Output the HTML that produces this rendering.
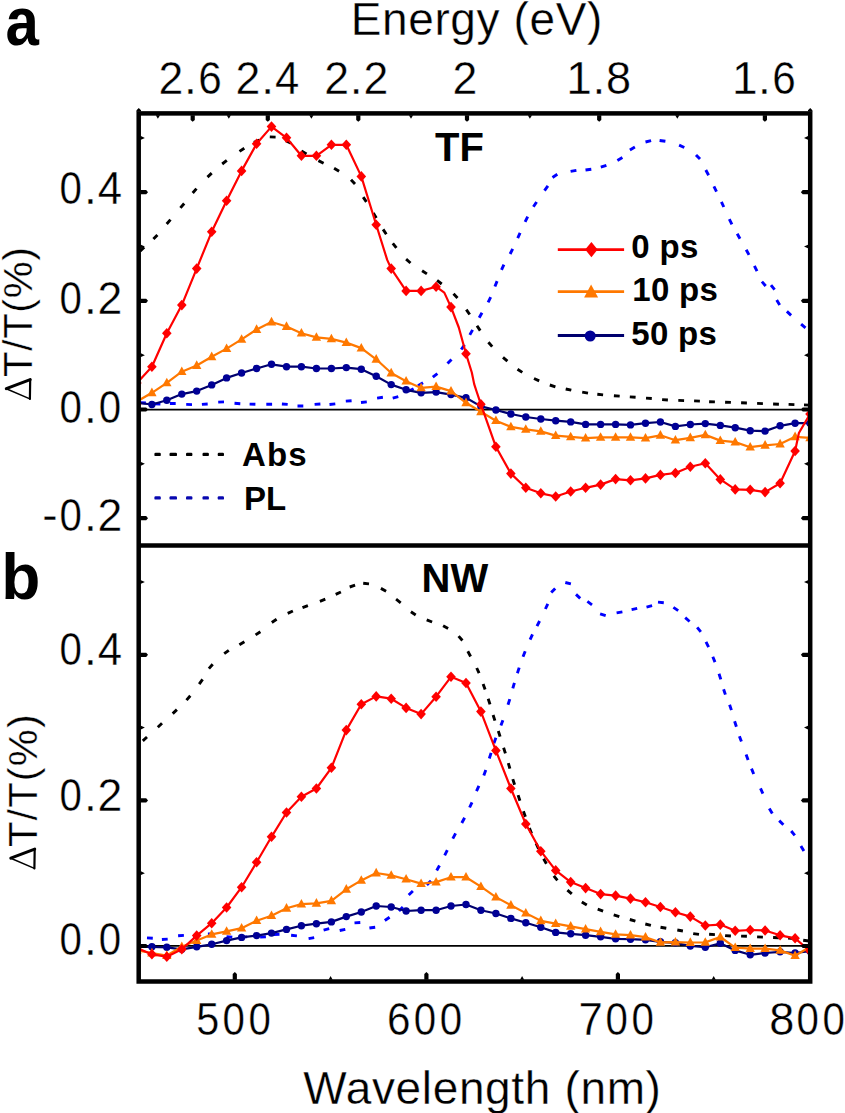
<!DOCTYPE html>
<html><head><meta charset="utf-8"><title>Transient absorption spectra</title>
<style>html,body{margin:0;padding:0;background:#fff;width:845px;height:1113px;overflow:hidden}svg{display:block}text{font-family:"Liberation Sans",sans-serif;fill:#000}text.thin{stroke:#fff;stroke-width:0.35px}</style>
</head><body>
<svg width="845" height="1113" viewBox="0 0 845 1113" font-family="Liberation Sans, sans-serif">
<defs>
<clipPath id="ca"><rect x="138.7" y="113.4" width="671.5" height="432.05000000000007"/></clipPath>
<clipPath id="cb"><rect x="138.7" y="545.45" width="671.5" height="436.04999999999995"/></clipPath>
</defs>
<rect width="845" height="1113" fill="#fff"/>
<line x1="138.7" y1="409.6" x2="810.2" y2="409.6" stroke="#000" stroke-width="1.6"/>
<line x1="138.7" y1="945.9" x2="810.2" y2="945.9" stroke="#000" stroke-width="1.6"/>
<g clip-path="url(#ca)">
<path d="M140.0 251.2L144.2 247.2M153.4 239.1L157.4 234.9M166.7 224.0L170.5 219.6M180.4 207.9L184.2 203.5M192.7 193.0L196.5 188.6M207.5 177.1L211.7 173.1M222.2 164.0L226.8 160.4M239.5 151.4L244.3 148.2M253.9 142.3L259.3 140.1M269.8 136.9L275.6 137.1M285.8 140.7L291.0 143.3M301.5 151.1L306.5 154.1M318.4 160.6L323.6 163.2M334.1 168.2L339.1 171.2M351.0 179.7L355.0 183.9M363.2 197.1L366.4 201.9M373.3 213.1L376.3 218.1M383.1 229.4L386.3 234.2M392.8 243.3L396.4 247.9M406.1 259.2L410.5 263.0M422.1 270.7L426.9 273.9M437.1 280.4L441.7 284.0M453.5 293.8L457.5 298.0M466.3 309.7L469.7 314.5M477.0 325.8L480.2 330.6M488.4 342.2L492.2 346.6M503.0 357.4L507.4 361.2M517.5 369.2L522.3 372.4M534.0 378.5L539.2 380.9M549.8 385.0L555.4 386.8M565.7 389.0L571.3 390.2M582.2 392.1L588.0 393.1M597.3 394.3L603.1 394.9M613.9 395.7L619.7 396.1M629.8 396.9L635.6 397.3M646.0 398.1L651.8 398.5M662.1 399.6L667.9 400.0M678.3 400.4L684.1 400.6M694.1 400.9L699.9 401.1M709.1 401.7L714.9 401.9M725.1 402.2L730.9 402.4M741.1 402.8L746.9 403.0M757.1 403.4L762.9 403.6M773.1 404.0L778.9 404.2M788.6 404.4L794.4 404.6M804.0 404.9L809.8 405.1" stroke="#000" stroke-width="2.9" fill="none"/>
<path d="M140.1 402.6L145.9 403.0M154.6 403.9L160.4 404.1M169.9 403.5L175.7 403.5M186.2 404.4L192.0 404.6M201.9 404.4L207.7 404.0M218.2 402.1L224.0 401.9M234.5 403.3L240.3 403.7M249.6 404.1L255.4 404.3M266.3 404.2L272.1 404.2M281.9 404.0L287.7 404.4M297.5 406.0L303.3 406.0M314.6 404.4L320.4 404.0M329.5 404.5L335.3 403.9M345.8 401.1L351.6 400.7M361.0 402.5L366.8 401.9M377.1 398.1L382.9 397.3M392.7 398.1L398.3 396.7M408.4 391.3L413.6 388.7M418.0 385.8L423.0 382.8M432.8 377.2L437.4 373.6M447.5 363.6L451.5 359.4M461.2 349.5L464.6 344.9M469.8 334.9L472.6 329.9M479.2 317.7L482.0 312.7M488.1 302.4L490.7 297.2M494.9 286.5L497.1 281.1M501.5 269.9L503.9 264.7M510.1 254.0L512.7 248.8M517.7 238.1L520.1 232.9M525.1 221.9L527.7 216.7M533.4 206.8L536.6 202.0M544.5 190.7L547.9 185.9M552.5 177.5L557.3 174.3M570.6 171.4L576.4 170.4M585.5 170.0L591.3 169.2M600.8 167.1L606.4 165.3M617.4 160.6L622.4 157.6M629.9 149.9L634.9 146.9M645.5 142.0L651.1 140.6M659.6 140.5L665.4 141.3M679.1 145.1L684.3 147.5M696.0 154.9L700.0 159.1M705.8 170.0L708.6 175.2M713.9 186.4L716.5 191.6M721.4 201.8L723.8 207.0M729.3 219.2L731.9 224.4M737.2 233.7L740.0 238.7M746.2 249.7L749.0 254.9M754.4 265.9L757.0 271.1M761.9 281.6L765.7 286.0M771.0 285.1L774.6 289.7M776.7 300.1L779.7 305.1M786.9 311.4L791.1 315.4M801.1 324.1L805.5 327.9" stroke="#0000ff" stroke-width="2.9" fill="none"/>
<polyline points="136.9,402.8 151.9,404.5 166.8,400.3 181.8,394.1 196.7,391.1 211.7,384.9 226.6,377.9 241.6,373.0 256.6,368.5 271.5,364.3 286.5,366.7 301.4,366.7 316.4,368.5 331.4,368.5 346.3,367.6 361.3,369.2 376.2,376.2 391.2,384.6 406.1,389.8 421.1,392.8 436.1,392.1 451.0,394.6 466.0,397.8 480.9,406.4 495.9,410.0 510.9,414.0 525.8,417.0 540.8,419.0 555.7,420.7 570.7,421.9 585.6,424.4 600.6,424.4 615.6,424.4 630.5,424.9 645.5,423.2 660.4,422.0 675.4,426.4 690.3,424.5 705.3,423.6 720.3,425.4 735.2,427.7 750.2,430.7 765.1,431.1 780.1,425.8 795.1,423.2 810.0,423.2" fill="none" stroke="#00006e" stroke-width="2.2" stroke-linejoin="round"/>
<circle cx="136.9" cy="402.8" r="3.7" fill="#000096"/>
<circle cx="151.9" cy="404.5" r="3.7" fill="#000096"/>
<circle cx="166.8" cy="400.3" r="3.7" fill="#000096"/>
<circle cx="181.8" cy="394.1" r="3.7" fill="#000096"/>
<circle cx="196.7" cy="391.1" r="3.7" fill="#000096"/>
<circle cx="211.7" cy="384.9" r="3.7" fill="#000096"/>
<circle cx="226.6" cy="377.9" r="3.7" fill="#000096"/>
<circle cx="241.6" cy="373.0" r="3.7" fill="#000096"/>
<circle cx="256.6" cy="368.5" r="3.7" fill="#000096"/>
<circle cx="271.5" cy="364.3" r="3.7" fill="#000096"/>
<circle cx="286.5" cy="366.7" r="3.7" fill="#000096"/>
<circle cx="301.4" cy="366.7" r="3.7" fill="#000096"/>
<circle cx="316.4" cy="368.5" r="3.7" fill="#000096"/>
<circle cx="331.4" cy="368.5" r="3.7" fill="#000096"/>
<circle cx="346.3" cy="367.6" r="3.7" fill="#000096"/>
<circle cx="361.3" cy="369.2" r="3.7" fill="#000096"/>
<circle cx="376.2" cy="376.2" r="3.7" fill="#000096"/>
<circle cx="391.2" cy="384.6" r="3.7" fill="#000096"/>
<circle cx="406.1" cy="389.8" r="3.7" fill="#000096"/>
<circle cx="421.1" cy="392.8" r="3.7" fill="#000096"/>
<circle cx="436.1" cy="392.1" r="3.7" fill="#000096"/>
<circle cx="451.0" cy="394.6" r="3.7" fill="#000096"/>
<circle cx="466.0" cy="397.8" r="3.7" fill="#000096"/>
<circle cx="480.9" cy="406.4" r="3.7" fill="#000096"/>
<circle cx="495.9" cy="410.0" r="3.7" fill="#000096"/>
<circle cx="510.9" cy="414.0" r="3.7" fill="#000096"/>
<circle cx="525.8" cy="417.0" r="3.7" fill="#000096"/>
<circle cx="540.8" cy="419.0" r="3.7" fill="#000096"/>
<circle cx="555.7" cy="420.7" r="3.7" fill="#000096"/>
<circle cx="570.7" cy="421.9" r="3.7" fill="#000096"/>
<circle cx="585.6" cy="424.4" r="3.7" fill="#000096"/>
<circle cx="600.6" cy="424.4" r="3.7" fill="#000096"/>
<circle cx="615.6" cy="424.4" r="3.7" fill="#000096"/>
<circle cx="630.5" cy="424.9" r="3.7" fill="#000096"/>
<circle cx="645.5" cy="423.2" r="3.7" fill="#000096"/>
<circle cx="660.4" cy="422.0" r="3.7" fill="#000096"/>
<circle cx="675.4" cy="426.4" r="3.7" fill="#000096"/>
<circle cx="690.3" cy="424.5" r="3.7" fill="#000096"/>
<circle cx="705.3" cy="423.6" r="3.7" fill="#000096"/>
<circle cx="720.3" cy="425.4" r="3.7" fill="#000096"/>
<circle cx="735.2" cy="427.7" r="3.7" fill="#000096"/>
<circle cx="750.2" cy="430.7" r="3.7" fill="#000096"/>
<circle cx="765.1" cy="431.1" r="3.7" fill="#000096"/>
<circle cx="780.1" cy="425.8" r="3.7" fill="#000096"/>
<circle cx="795.1" cy="423.2" r="3.7" fill="#000096"/>
<circle cx="810.0" cy="423.2" r="3.7" fill="#000096"/>
<polyline points="136.9,401.5 151.9,392.8 166.8,382.9 181.8,371.7 196.7,365.5 211.7,356.8 226.6,348.6 241.6,339.4 256.6,329.5 271.5,322.0 286.5,326.5 301.4,333.2 316.4,337.4 331.4,338.9 346.3,342.6 361.3,348.1 376.2,359.3 391.2,373.0 406.1,381.2 421.1,387.9 436.1,386.6 451.0,391.1 466.0,402.8 480.9,411.8 495.9,420.7 510.9,426.9 525.8,429.4 540.8,431.4 555.7,435.6 570.7,436.9 585.6,438.1 600.6,437.4 615.6,437.4 630.5,437.4 645.5,438.1 660.4,435.3 675.4,440.2 690.3,437.8 705.3,434.9 720.3,440.6 735.2,442.1 750.2,447.2 765.1,445.3 780.1,444.0 795.1,436.8 810.0,437.8" fill="none" stroke="#ff7800" stroke-width="2.2" stroke-linejoin="round"/>
<path d="M136.9 396.3L141.6 404.9L132.2 404.9Z" fill="#ff7800"/>
<path d="M151.9 387.6L156.6 396.2L147.2 396.2Z" fill="#ff7800"/>
<path d="M166.8 377.7L171.5 386.3L162.1 386.3Z" fill="#ff7800"/>
<path d="M181.8 366.5L186.5 375.1L177.1 375.1Z" fill="#ff7800"/>
<path d="M196.7 360.3L201.4 368.9L192.0 368.9Z" fill="#ff7800"/>
<path d="M211.7 351.6L216.4 360.2L207.0 360.2Z" fill="#ff7800"/>
<path d="M226.6 343.4L231.3 352.0L221.9 352.0Z" fill="#ff7800"/>
<path d="M241.6 334.2L246.3 342.8L236.9 342.8Z" fill="#ff7800"/>
<path d="M256.6 324.3L261.3 332.9L251.9 332.9Z" fill="#ff7800"/>
<path d="M271.5 316.8L276.2 325.4L266.8 325.4Z" fill="#ff7800"/>
<path d="M286.5 321.3L291.2 329.9L281.8 329.9Z" fill="#ff7800"/>
<path d="M301.4 328.0L306.1 336.6L296.7 336.6Z" fill="#ff7800"/>
<path d="M316.4 332.2L321.1 340.8L311.7 340.8Z" fill="#ff7800"/>
<path d="M331.4 333.7L336.1 342.3L326.7 342.3Z" fill="#ff7800"/>
<path d="M346.3 337.4L351.0 346.0L341.6 346.0Z" fill="#ff7800"/>
<path d="M361.3 342.9L366.0 351.5L356.6 351.5Z" fill="#ff7800"/>
<path d="M376.2 354.1L380.9 362.7L371.5 362.7Z" fill="#ff7800"/>
<path d="M391.2 367.8L395.9 376.4L386.5 376.4Z" fill="#ff7800"/>
<path d="M406.1 376.0L410.8 384.6L401.4 384.6Z" fill="#ff7800"/>
<path d="M421.1 382.7L425.8 391.3L416.4 391.3Z" fill="#ff7800"/>
<path d="M436.1 381.4L440.8 390.0L431.4 390.0Z" fill="#ff7800"/>
<path d="M451.0 385.9L455.7 394.5L446.3 394.5Z" fill="#ff7800"/>
<path d="M466.0 397.6L470.7 406.2L461.3 406.2Z" fill="#ff7800"/>
<path d="M480.9 406.6L485.6 415.2L476.2 415.2Z" fill="#ff7800"/>
<path d="M495.9 415.5L500.6 424.1L491.2 424.1Z" fill="#ff7800"/>
<path d="M510.9 421.7L515.6 430.3L506.2 430.3Z" fill="#ff7800"/>
<path d="M525.8 424.2L530.5 432.8L521.1 432.8Z" fill="#ff7800"/>
<path d="M540.8 426.2L545.5 434.8L536.1 434.8Z" fill="#ff7800"/>
<path d="M555.7 430.4L560.4 439.0L551.0 439.0Z" fill="#ff7800"/>
<path d="M570.7 431.7L575.4 440.3L566.0 440.3Z" fill="#ff7800"/>
<path d="M585.6 432.9L590.3 441.5L580.9 441.5Z" fill="#ff7800"/>
<path d="M600.6 432.2L605.3 440.8L595.9 440.8Z" fill="#ff7800"/>
<path d="M615.6 432.2L620.3 440.8L610.9 440.8Z" fill="#ff7800"/>
<path d="M630.5 432.2L635.2 440.8L625.8 440.8Z" fill="#ff7800"/>
<path d="M645.5 432.9L650.2 441.5L640.8 441.5Z" fill="#ff7800"/>
<path d="M660.4 430.1L665.1 438.7L655.7 438.7Z" fill="#ff7800"/>
<path d="M675.4 435.0L680.1 443.6L670.7 443.6Z" fill="#ff7800"/>
<path d="M690.3 432.6L695.0 441.2L685.6 441.2Z" fill="#ff7800"/>
<path d="M705.3 429.7L710.0 438.3L700.6 438.3Z" fill="#ff7800"/>
<path d="M720.3 435.4L725.0 444.0L715.6 444.0Z" fill="#ff7800"/>
<path d="M735.2 436.9L739.9 445.5L730.5 445.5Z" fill="#ff7800"/>
<path d="M750.2 442.0L754.9 450.6L745.5 450.6Z" fill="#ff7800"/>
<path d="M765.1 440.1L769.8 448.7L760.4 448.7Z" fill="#ff7800"/>
<path d="M780.1 438.8L784.8 447.4L775.4 447.4Z" fill="#ff7800"/>
<path d="M795.1 431.6L799.8 440.2L790.4 440.2Z" fill="#ff7800"/>
<path d="M810.0 432.6L814.7 441.2L805.3 441.2Z" fill="#ff7800"/>
<polyline points="136.9,383.0 151.9,366.7 166.8,333.2 181.8,305.1 196.7,268.6 211.7,231.8 226.6,200.7 241.6,170.9 256.6,143.8 271.5,126.6 286.5,137.8 301.4,155.8 316.4,155.8 331.4,144.8 346.3,144.8 361.3,176.4 376.2,224.8 387.2,259.9 391.2,268.6 406.1,290.9 421.1,290.9 436.1,286.7 444.3,292.6 451.0,307.1 458.8,327.5 466.0,353.7 471.8,372.5 474.2,384.1 476.6,391.5 480.9,404.3 495.9,446.8 510.9,473.6 525.8,487.8 540.8,493.3 555.7,496.5 570.7,491.5 585.6,487.8 600.6,484.6 615.6,479.1 630.5,480.3 645.5,478.4 660.4,474.9 675.4,473.0 690.3,466.7 705.3,463.3 720.3,479.4 735.2,489.4 750.2,489.8 765.1,492.1 780.1,483.2 795.1,451.0 798.9,433.0 810.0,414.0" fill="none" stroke="#ff0000" stroke-width="2.2" stroke-linejoin="round"/>
<path d="M136.9 377.7L141.7 383.0L136.9 388.3L132.1 383.0Z" fill="#ff0000"/>
<path d="M151.9 361.4L156.7 366.7L151.9 372.0L147.1 366.7Z" fill="#ff0000"/>
<path d="M166.8 327.9L171.6 333.2L166.8 338.5L162.0 333.2Z" fill="#ff0000"/>
<path d="M181.8 299.8L186.6 305.1L181.8 310.4L177.0 305.1Z" fill="#ff0000"/>
<path d="M196.7 263.3L201.5 268.6L196.7 273.9L191.9 268.6Z" fill="#ff0000"/>
<path d="M211.7 226.5L216.5 231.8L211.7 237.1L206.9 231.8Z" fill="#ff0000"/>
<path d="M226.6 195.4L231.4 200.7L226.6 206.0L221.8 200.7Z" fill="#ff0000"/>
<path d="M241.6 165.6L246.4 170.9L241.6 176.2L236.8 170.9Z" fill="#ff0000"/>
<path d="M256.6 138.5L261.4 143.8L256.6 149.1L251.8 143.8Z" fill="#ff0000"/>
<path d="M271.5 121.3L276.3 126.6L271.5 131.9L266.7 126.6Z" fill="#ff0000"/>
<path d="M286.5 132.5L291.3 137.8L286.5 143.1L281.7 137.8Z" fill="#ff0000"/>
<path d="M301.4 150.5L306.2 155.8L301.4 161.1L296.6 155.8Z" fill="#ff0000"/>
<path d="M316.4 150.5L321.2 155.8L316.4 161.1L311.6 155.8Z" fill="#ff0000"/>
<path d="M331.4 139.5L336.2 144.8L331.4 150.1L326.6 144.8Z" fill="#ff0000"/>
<path d="M346.3 139.5L351.1 144.8L346.3 150.1L341.5 144.8Z" fill="#ff0000"/>
<path d="M361.3 171.1L366.1 176.4L361.3 181.7L356.5 176.4Z" fill="#ff0000"/>
<path d="M376.2 219.5L381.0 224.8L376.2 230.1L371.4 224.8Z" fill="#ff0000"/>
<path d="M391.2 263.3L396.0 268.6L391.2 273.9L386.4 268.6Z" fill="#ff0000"/>
<path d="M406.1 285.6L410.9 290.9L406.1 296.2L401.3 290.9Z" fill="#ff0000"/>
<path d="M421.1 285.6L425.9 290.9L421.1 296.2L416.3 290.9Z" fill="#ff0000"/>
<path d="M436.1 281.4L440.9 286.7L436.1 292.0L431.3 286.7Z" fill="#ff0000"/>
<path d="M451.0 301.8L455.8 307.1L451.0 312.4L446.2 307.1Z" fill="#ff0000"/>
<path d="M466.0 348.4L470.8 353.7L466.0 359.0L461.2 353.7Z" fill="#ff0000"/>
<path d="M480.9 399.0L485.7 404.3L480.9 409.6L476.1 404.3Z" fill="#ff0000"/>
<path d="M495.9 441.5L500.7 446.8L495.9 452.1L491.1 446.8Z" fill="#ff0000"/>
<path d="M510.9 468.3L515.6 473.6L510.9 478.9L506.1 473.6Z" fill="#ff0000"/>
<path d="M525.8 482.5L530.6 487.8L525.8 493.1L521.0 487.8Z" fill="#ff0000"/>
<path d="M540.8 488.0L545.6 493.3L540.8 498.6L536.0 493.3Z" fill="#ff0000"/>
<path d="M555.7 491.2L560.5 496.5L555.7 501.8L550.9 496.5Z" fill="#ff0000"/>
<path d="M570.7 486.2L575.5 491.5L570.7 496.8L565.9 491.5Z" fill="#ff0000"/>
<path d="M585.6 482.5L590.4 487.8L585.6 493.1L580.8 487.8Z" fill="#ff0000"/>
<path d="M600.6 479.3L605.4 484.6L600.6 489.9L595.8 484.6Z" fill="#ff0000"/>
<path d="M615.6 473.8L620.4 479.1L615.6 484.4L610.8 479.1Z" fill="#ff0000"/>
<path d="M630.5 475.0L635.3 480.3L630.5 485.6L625.7 480.3Z" fill="#ff0000"/>
<path d="M645.5 473.1L650.3 478.4L645.5 483.7L640.7 478.4Z" fill="#ff0000"/>
<path d="M660.4 469.6L665.2 474.9L660.4 480.2L655.6 474.9Z" fill="#ff0000"/>
<path d="M675.4 467.7L680.2 473.0L675.4 478.3L670.6 473.0Z" fill="#ff0000"/>
<path d="M690.3 461.4L695.1 466.7L690.3 472.0L685.5 466.7Z" fill="#ff0000"/>
<path d="M705.3 458.0L710.1 463.3L705.3 468.6L700.5 463.3Z" fill="#ff0000"/>
<path d="M720.3 474.1L725.1 479.4L720.3 484.7L715.5 479.4Z" fill="#ff0000"/>
<path d="M735.2 484.1L740.0 489.4L735.2 494.7L730.4 489.4Z" fill="#ff0000"/>
<path d="M750.2 484.5L755.0 489.8L750.2 495.1L745.4 489.8Z" fill="#ff0000"/>
<path d="M765.1 486.8L769.9 492.1L765.1 497.4L760.3 492.1Z" fill="#ff0000"/>
<path d="M780.1 477.9L784.9 483.2L780.1 488.5L775.3 483.2Z" fill="#ff0000"/>
<path d="M795.1 445.7L799.9 451.0L795.1 456.3L790.3 451.0Z" fill="#ff0000"/>
<path d="M810.0 408.7L814.8 414.0L810.0 419.3L805.2 414.0Z" fill="#ff0000"/>
</g>
<g clip-path="url(#cb)">
<path d="M142.8 740.8L147.0 737.0M157.8 727.3L162.0 723.3M172.7 713.6L176.9 709.6M186.5 700.1L190.3 695.7M199.2 684.2L202.6 679.4M208.9 668.6L212.7 664.2M224.2 653.7L228.8 650.3M239.4 644.7L244.4 641.7M255.6 634.9L260.4 631.7M271.8 622.5L276.6 619.3M287.7 613.4L292.9 611.0M302.5 607.7L307.9 605.7M319.9 601.4L325.3 599.2M335.7 594.4L340.9 592.0M349.7 587.0L355.1 585.2M363.2 583.3L369.0 583.9M380.9 588.4L386.1 591.2M396.1 599.2L400.7 602.8M410.9 611.8L415.7 615.0M426.7 619.8L432.1 622.0M443.1 625.7L448.1 628.5M458.6 636.1L462.4 640.5M467.8 651.3L470.6 656.5M476.7 668.0L479.1 673.2M483.1 684.0L485.1 689.4M488.2 698.8L490.0 704.4M493.1 715.0L494.9 720.6M498.3 731.0L500.1 736.6M503.6 747.8L505.4 753.4M508.3 763.1L509.9 768.7M512.8 779.1L514.6 784.7M518.1 795.1L519.9 800.7M523.4 811.3L525.4 816.7M529.4 828.1L531.6 833.5M536.1 843.4L538.5 848.6M543.6 858.8L546.4 863.8M553.8 875.8L557.4 880.4M567.4 890.1L571.8 893.9M581.8 902.1L586.8 905.1M597.7 909.2L603.1 911.2M613.7 914.8L619.3 916.6M629.8 919.5L635.4 921.1M645.3 924.0L650.9 925.4M660.5 927.2L666.3 928.2M677.3 930.0L682.9 931.0M693.2 933.6L699.0 934.4M709.1 934.2L714.9 934.6M725.1 935.6L730.9 936.0M741.1 936.1L746.9 936.3M757.1 936.9L762.9 937.1M773.1 937.5L778.9 937.7M788.1 938.0L793.9 938.6M803.2 940.2L809.0 941.0" stroke="#000" stroke-width="2.9" fill="none"/>
<path d="M147.0 937.9L152.8 938.3M161.9 939.5L167.7 939.1M178.1 935.8L183.9 935.4M193.0 937.1L198.8 936.7M207.9 933.9L213.7 933.9M226.5 936.6L232.3 937.2M241.4 936.9L247.2 936.9M260.1 937.1L265.9 936.7M273.7 934.5L279.5 934.3M291.1 935.3L296.9 935.9M308.6 938.6L314.2 937.6M323.6 930.1L329.2 928.7M339.7 930.5L345.3 929.3M354.5 922.9L360.3 922.5M369.4 928.0L375.2 927.2M384.8 920.5L389.6 917.3M398.9 911.1L402.9 906.9M408.7 895.0L412.9 891.0M426.8 884.9L431.0 880.9M436.7 870.5L439.5 865.5M444.7 855.4L447.3 850.2M452.8 838.6L455.6 833.4M461.8 823.0L464.6 817.8M469.6 807.5L472.0 802.3M476.5 791.2L478.9 785.8M483.8 775.5L485.8 770.1M489.3 758.5L491.1 752.9M493.9 743.2L495.9 737.8M500.9 725.6L502.9 720.2M508.0 704.7L509.8 699.1M512.8 688.4L514.4 682.8M517.4 673.2L519.2 667.6M523.0 656.7L525.2 651.3M530.1 639.6L532.5 634.4M537.0 626.2L539.6 621.0M545.4 609.0L547.8 603.8M551.2 592.6L555.2 588.4M565.3 582.5L570.9 583.9M576.0 594.4L580.2 598.4M587.4 601.4L592.0 604.8M600.1 613.8L605.7 615.6M616.6 612.9L622.4 611.9M631.6 609.6L637.2 608.4M646.5 607.1L652.1 605.7M658.0 602.1L663.8 602.7M673.4 607.4L678.2 610.6M685.2 617.7L689.6 621.5M697.2 627.3L700.8 631.9M706.0 641.9L708.6 647.1M712.8 656.7L715.0 662.1M719.0 673.8L720.8 679.4M723.6 689.2L725.4 694.6M729.6 704.7L731.4 710.1M734.6 721.2L736.4 726.8M739.4 736.2L741.4 741.6M746.1 754.5L748.1 759.9M751.5 768.6L753.7 774.0M760.5 788.4L762.9 793.6M769.3 808.5L772.3 813.5M779.2 820.6L783.4 824.8M791.2 831.0L794.8 835.4M800.9 845.9L803.9 850.9" stroke="#0000ff" stroke-width="2.9" fill="none"/>
<polyline points="136.9,946.8 151.9,946.8 166.8,947.3 181.8,949.3 196.7,946.8 211.7,944.3 226.6,940.6 241.6,937.4 256.6,935.6 271.5,933.1 286.5,929.4 301.4,925.7 316.4,923.7 331.4,921.9 346.3,916.6 361.3,912.0 376.2,906.0 391.2,907.0 406.1,911.0 421.1,910.2 436.1,910.2 451.0,906.0 466.0,904.5 480.9,910.2 495.9,913.5 510.9,918.4 525.8,922.7 540.8,927.3 555.7,932.4 570.7,933.8 585.6,935.2 600.6,936.8 615.6,938.8 630.5,939.2 645.5,939.8 660.4,941.8 675.4,942.8 690.3,946.0 705.3,947.2 720.3,943.3 735.2,950.4 750.2,954.8 765.1,953.0 780.1,951.8 795.1,953.0 810.0,951.2" fill="none" stroke="#00006e" stroke-width="2.2" stroke-linejoin="round"/>
<circle cx="136.9" cy="946.8" r="3.7" fill="#000096"/>
<circle cx="151.9" cy="946.8" r="3.7" fill="#000096"/>
<circle cx="166.8" cy="947.3" r="3.7" fill="#000096"/>
<circle cx="181.8" cy="949.3" r="3.7" fill="#000096"/>
<circle cx="196.7" cy="946.8" r="3.7" fill="#000096"/>
<circle cx="211.7" cy="944.3" r="3.7" fill="#000096"/>
<circle cx="226.6" cy="940.6" r="3.7" fill="#000096"/>
<circle cx="241.6" cy="937.4" r="3.7" fill="#000096"/>
<circle cx="256.6" cy="935.6" r="3.7" fill="#000096"/>
<circle cx="271.5" cy="933.1" r="3.7" fill="#000096"/>
<circle cx="286.5" cy="929.4" r="3.7" fill="#000096"/>
<circle cx="301.4" cy="925.7" r="3.7" fill="#000096"/>
<circle cx="316.4" cy="923.7" r="3.7" fill="#000096"/>
<circle cx="331.4" cy="921.9" r="3.7" fill="#000096"/>
<circle cx="346.3" cy="916.6" r="3.7" fill="#000096"/>
<circle cx="361.3" cy="912.0" r="3.7" fill="#000096"/>
<circle cx="376.2" cy="906.0" r="3.7" fill="#000096"/>
<circle cx="391.2" cy="907.0" r="3.7" fill="#000096"/>
<circle cx="406.1" cy="911.0" r="3.7" fill="#000096"/>
<circle cx="421.1" cy="910.2" r="3.7" fill="#000096"/>
<circle cx="436.1" cy="910.2" r="3.7" fill="#000096"/>
<circle cx="451.0" cy="906.0" r="3.7" fill="#000096"/>
<circle cx="466.0" cy="904.5" r="3.7" fill="#000096"/>
<circle cx="480.9" cy="910.2" r="3.7" fill="#000096"/>
<circle cx="495.9" cy="913.5" r="3.7" fill="#000096"/>
<circle cx="510.9" cy="918.4" r="3.7" fill="#000096"/>
<circle cx="525.8" cy="922.7" r="3.7" fill="#000096"/>
<circle cx="540.8" cy="927.3" r="3.7" fill="#000096"/>
<circle cx="555.7" cy="932.4" r="3.7" fill="#000096"/>
<circle cx="570.7" cy="933.8" r="3.7" fill="#000096"/>
<circle cx="585.6" cy="935.2" r="3.7" fill="#000096"/>
<circle cx="600.6" cy="936.8" r="3.7" fill="#000096"/>
<circle cx="615.6" cy="938.8" r="3.7" fill="#000096"/>
<circle cx="630.5" cy="939.2" r="3.7" fill="#000096"/>
<circle cx="645.5" cy="939.8" r="3.7" fill="#000096"/>
<circle cx="660.4" cy="941.8" r="3.7" fill="#000096"/>
<circle cx="675.4" cy="942.8" r="3.7" fill="#000096"/>
<circle cx="690.3" cy="946.0" r="3.7" fill="#000096"/>
<circle cx="705.3" cy="947.2" r="3.7" fill="#000096"/>
<circle cx="720.3" cy="943.3" r="3.7" fill="#000096"/>
<circle cx="735.2" cy="950.4" r="3.7" fill="#000096"/>
<circle cx="750.2" cy="954.8" r="3.7" fill="#000096"/>
<circle cx="765.1" cy="953.0" r="3.7" fill="#000096"/>
<circle cx="780.1" cy="951.8" r="3.7" fill="#000096"/>
<circle cx="795.1" cy="953.0" r="3.7" fill="#000096"/>
<circle cx="810.0" cy="951.2" r="3.7" fill="#000096"/>
<polyline points="136.9,950.5 151.9,953.0 166.8,955.5 181.8,946.8 196.7,940.6 211.7,934.4 226.6,931.4 241.6,928.2 256.6,920.7 271.5,915.7 286.5,908.3 301.4,904.1 316.4,903.3 331.4,900.8 346.3,889.3 361.3,880.4 376.2,873.0 391.2,875.4 406.1,879.2 421.1,883.6 436.1,882.1 451.0,877.2 466.0,877.2 480.9,886.6 495.9,897.1 510.9,905.3 525.8,913.1 540.8,920.8 555.7,923.7 570.7,926.3 585.6,929.1 600.6,931.8 615.6,934.4 630.5,935.2 645.5,937.2 660.4,942.4 675.4,942.1 690.3,942.5 705.3,942.4 720.3,937.0 735.2,947.7 750.2,948.6 765.1,948.6 780.1,950.4 795.1,955.7 810.0,946.8" fill="none" stroke="#ff7800" stroke-width="2.2" stroke-linejoin="round"/>
<path d="M136.9 945.3L141.6 953.9L132.2 953.9Z" fill="#ff7800"/>
<path d="M151.9 947.8L156.6 956.4L147.2 956.4Z" fill="#ff7800"/>
<path d="M166.8 950.3L171.5 958.9L162.1 958.9Z" fill="#ff7800"/>
<path d="M181.8 941.6L186.5 950.2L177.1 950.2Z" fill="#ff7800"/>
<path d="M196.7 935.4L201.4 944.0L192.0 944.0Z" fill="#ff7800"/>
<path d="M211.7 929.2L216.4 937.8L207.0 937.8Z" fill="#ff7800"/>
<path d="M226.6 926.2L231.3 934.8L221.9 934.8Z" fill="#ff7800"/>
<path d="M241.6 923.0L246.3 931.6L236.9 931.6Z" fill="#ff7800"/>
<path d="M256.6 915.5L261.3 924.1L251.9 924.1Z" fill="#ff7800"/>
<path d="M271.5 910.5L276.2 919.1L266.8 919.1Z" fill="#ff7800"/>
<path d="M286.5 903.1L291.2 911.7L281.8 911.7Z" fill="#ff7800"/>
<path d="M301.4 898.9L306.1 907.5L296.7 907.5Z" fill="#ff7800"/>
<path d="M316.4 898.1L321.1 906.7L311.7 906.7Z" fill="#ff7800"/>
<path d="M331.4 895.6L336.1 904.2L326.7 904.2Z" fill="#ff7800"/>
<path d="M346.3 884.1L351.0 892.7L341.6 892.7Z" fill="#ff7800"/>
<path d="M361.3 875.2L366.0 883.8L356.6 883.8Z" fill="#ff7800"/>
<path d="M376.2 867.8L380.9 876.4L371.5 876.4Z" fill="#ff7800"/>
<path d="M391.2 870.2L395.9 878.8L386.5 878.8Z" fill="#ff7800"/>
<path d="M406.1 874.0L410.8 882.6L401.4 882.6Z" fill="#ff7800"/>
<path d="M421.1 878.4L425.8 887.0L416.4 887.0Z" fill="#ff7800"/>
<path d="M436.1 876.9L440.8 885.5L431.4 885.5Z" fill="#ff7800"/>
<path d="M451.0 872.0L455.7 880.6L446.3 880.6Z" fill="#ff7800"/>
<path d="M466.0 872.0L470.7 880.6L461.3 880.6Z" fill="#ff7800"/>
<path d="M480.9 881.4L485.6 890.0L476.2 890.0Z" fill="#ff7800"/>
<path d="M495.9 891.9L500.6 900.5L491.2 900.5Z" fill="#ff7800"/>
<path d="M510.9 900.1L515.6 908.7L506.2 908.7Z" fill="#ff7800"/>
<path d="M525.8 907.9L530.5 916.5L521.1 916.5Z" fill="#ff7800"/>
<path d="M540.8 915.6L545.5 924.2L536.1 924.2Z" fill="#ff7800"/>
<path d="M555.7 918.5L560.4 927.1L551.0 927.1Z" fill="#ff7800"/>
<path d="M570.7 921.1L575.4 929.7L566.0 929.7Z" fill="#ff7800"/>
<path d="M585.6 923.9L590.3 932.5L580.9 932.5Z" fill="#ff7800"/>
<path d="M600.6 926.6L605.3 935.2L595.9 935.2Z" fill="#ff7800"/>
<path d="M615.6 929.2L620.3 937.8L610.9 937.8Z" fill="#ff7800"/>
<path d="M630.5 930.0L635.2 938.6L625.8 938.6Z" fill="#ff7800"/>
<path d="M645.5 932.0L650.2 940.6L640.8 940.6Z" fill="#ff7800"/>
<path d="M660.4 937.2L665.1 945.8L655.7 945.8Z" fill="#ff7800"/>
<path d="M675.4 936.9L680.1 945.5L670.7 945.5Z" fill="#ff7800"/>
<path d="M690.3 937.3L695.0 945.9L685.6 945.9Z" fill="#ff7800"/>
<path d="M705.3 937.2L710.0 945.8L700.6 945.8Z" fill="#ff7800"/>
<path d="M720.3 931.8L725.0 940.4L715.6 940.4Z" fill="#ff7800"/>
<path d="M735.2 942.5L739.9 951.1L730.5 951.1Z" fill="#ff7800"/>
<path d="M750.2 943.4L754.9 952.0L745.5 952.0Z" fill="#ff7800"/>
<path d="M765.1 943.4L769.8 952.0L760.4 952.0Z" fill="#ff7800"/>
<path d="M780.1 945.2L784.8 953.8L775.4 953.8Z" fill="#ff7800"/>
<path d="M795.1 950.5L799.8 959.1L790.4 959.1Z" fill="#ff7800"/>
<path d="M810.0 941.6L814.7 950.2L805.3 950.2Z" fill="#ff7800"/>
<polyline points="136.9,948.0 151.9,954.3 166.8,956.7 181.8,949.3 196.7,935.6 211.7,923.2 226.6,907.5 241.6,887.2 256.6,862.3 271.5,836.8 286.5,812.5 301.4,796.8 316.4,788.5 331.4,767.8 346.3,730.1 361.3,704.3 376.2,696.4 391.2,698.7 406.1,707.9 421.1,714.1 436.1,696.7 451.0,676.8 466.0,683.0 480.9,711.6 495.9,750.6 510.9,788.5 525.8,824.0 540.8,851.2 555.7,870.4 570.7,882.1 585.6,888.1 600.6,894.1 615.6,895.6 630.5,898.6 645.5,902.2 660.4,907.0 675.4,912.2 690.3,916.6 705.3,925.5 720.3,924.6 735.2,930.8 750.2,930.0 765.1,930.5 780.1,935.3 795.1,938.3 810.0,951.0" fill="none" stroke="#ff0000" stroke-width="2.2" stroke-linejoin="round"/>
<path d="M136.9 942.7L141.7 948.0L136.9 953.3L132.1 948.0Z" fill="#ff0000"/>
<path d="M151.9 949.0L156.7 954.3L151.9 959.6L147.1 954.3Z" fill="#ff0000"/>
<path d="M166.8 951.4L171.6 956.7L166.8 962.0L162.0 956.7Z" fill="#ff0000"/>
<path d="M181.8 944.0L186.6 949.3L181.8 954.6L177.0 949.3Z" fill="#ff0000"/>
<path d="M196.7 930.3L201.5 935.6L196.7 940.9L191.9 935.6Z" fill="#ff0000"/>
<path d="M211.7 917.9L216.5 923.2L211.7 928.5L206.9 923.2Z" fill="#ff0000"/>
<path d="M226.6 902.2L231.4 907.5L226.6 912.8L221.8 907.5Z" fill="#ff0000"/>
<path d="M241.6 881.9L246.4 887.2L241.6 892.5L236.8 887.2Z" fill="#ff0000"/>
<path d="M256.6 857.0L261.4 862.3L256.6 867.6L251.8 862.3Z" fill="#ff0000"/>
<path d="M271.5 831.5L276.3 836.8L271.5 842.1L266.7 836.8Z" fill="#ff0000"/>
<path d="M286.5 807.2L291.3 812.5L286.5 817.8L281.7 812.5Z" fill="#ff0000"/>
<path d="M301.4 791.5L306.2 796.8L301.4 802.1L296.6 796.8Z" fill="#ff0000"/>
<path d="M316.4 783.2L321.2 788.5L316.4 793.8L311.6 788.5Z" fill="#ff0000"/>
<path d="M331.4 762.5L336.2 767.8L331.4 773.1L326.6 767.8Z" fill="#ff0000"/>
<path d="M346.3 724.8L351.1 730.1L346.3 735.4L341.5 730.1Z" fill="#ff0000"/>
<path d="M361.3 699.0L366.1 704.3L361.3 709.6L356.5 704.3Z" fill="#ff0000"/>
<path d="M376.2 691.1L381.0 696.4L376.2 701.7L371.4 696.4Z" fill="#ff0000"/>
<path d="M391.2 693.4L396.0 698.7L391.2 704.0L386.4 698.7Z" fill="#ff0000"/>
<path d="M406.1 702.6L410.9 707.9L406.1 713.2L401.3 707.9Z" fill="#ff0000"/>
<path d="M421.1 708.8L425.9 714.1L421.1 719.4L416.3 714.1Z" fill="#ff0000"/>
<path d="M436.1 691.4L440.9 696.7L436.1 702.0L431.3 696.7Z" fill="#ff0000"/>
<path d="M451.0 671.5L455.8 676.8L451.0 682.1L446.2 676.8Z" fill="#ff0000"/>
<path d="M466.0 677.7L470.8 683.0L466.0 688.3L461.2 683.0Z" fill="#ff0000"/>
<path d="M480.9 706.3L485.7 711.6L480.9 716.9L476.1 711.6Z" fill="#ff0000"/>
<path d="M495.9 745.3L500.7 750.6L495.9 755.9L491.1 750.6Z" fill="#ff0000"/>
<path d="M510.9 783.2L515.6 788.5L510.9 793.8L506.1 788.5Z" fill="#ff0000"/>
<path d="M525.8 818.7L530.6 824.0L525.8 829.3L521.0 824.0Z" fill="#ff0000"/>
<path d="M540.8 845.9L545.6 851.2L540.8 856.5L536.0 851.2Z" fill="#ff0000"/>
<path d="M555.7 865.1L560.5 870.4L555.7 875.7L550.9 870.4Z" fill="#ff0000"/>
<path d="M570.7 876.8L575.5 882.1L570.7 887.4L565.9 882.1Z" fill="#ff0000"/>
<path d="M585.6 882.8L590.4 888.1L585.6 893.4L580.8 888.1Z" fill="#ff0000"/>
<path d="M600.6 888.8L605.4 894.1L600.6 899.4L595.8 894.1Z" fill="#ff0000"/>
<path d="M615.6 890.3L620.4 895.6L615.6 900.9L610.8 895.6Z" fill="#ff0000"/>
<path d="M630.5 893.3L635.3 898.6L630.5 903.9L625.7 898.6Z" fill="#ff0000"/>
<path d="M645.5 896.9L650.3 902.2L645.5 907.5L640.7 902.2Z" fill="#ff0000"/>
<path d="M660.4 901.7L665.2 907.0L660.4 912.3L655.6 907.0Z" fill="#ff0000"/>
<path d="M675.4 906.9L680.2 912.2L675.4 917.5L670.6 912.2Z" fill="#ff0000"/>
<path d="M690.3 911.3L695.1 916.6L690.3 921.9L685.5 916.6Z" fill="#ff0000"/>
<path d="M705.3 920.2L710.1 925.5L705.3 930.8L700.5 925.5Z" fill="#ff0000"/>
<path d="M720.3 919.3L725.1 924.6L720.3 929.9L715.5 924.6Z" fill="#ff0000"/>
<path d="M735.2 925.5L740.0 930.8L735.2 936.1L730.4 930.8Z" fill="#ff0000"/>
<path d="M750.2 924.7L755.0 930.0L750.2 935.3L745.4 930.0Z" fill="#ff0000"/>
<path d="M765.1 925.2L769.9 930.5L765.1 935.8L760.3 930.5Z" fill="#ff0000"/>
<path d="M780.1 930.0L784.9 935.3L780.1 940.6L775.3 935.3Z" fill="#ff0000"/>
<path d="M795.1 933.0L799.9 938.3L795.1 943.6L790.3 938.3Z" fill="#ff0000"/>
<path d="M810.0 945.7L814.8 951.0L810.0 956.3L805.2 951.0Z" fill="#ff0000"/>
</g>
<g fill="#000">
<path d="M155.8 115.2 L160.0 115.2 L157.9 118.8Z"/>
<path d="M190.6 115.2 L190.6 119.9 L192.7 121.7 L194.8 119.9 L194.8 115.2Z"/>
<path d="M226.7 115.2 L230.9 115.2 L228.8 118.8Z"/>
<path d="M265.7 115.2 L265.7 119.9 L267.8 121.7 L269.9 119.9 L269.9 115.2Z"/>
<path d="M309.3 115.2 L313.5 115.2 L311.4 118.8Z"/>
<path d="M356.2 115.2 L356.2 119.9 L358.3 121.7 L360.4 119.9 L360.4 115.2Z"/>
<path d="M408.9 115.2 L413.1 115.2 L411.0 118.8Z"/>
<path d="M464.9 115.2 L464.9 119.9 L467.0 121.7 L469.1 119.9 L469.1 115.2Z"/>
<path d="M527.8 115.2 L532.0 115.2 L529.9 118.8Z"/>
<path d="M597.1 115.2 L597.1 119.9 L599.2 121.7 L601.3 119.9 L601.3 115.2Z"/>
<path d="M675.2 115.2 L679.4 115.2 L677.3 118.8Z"/>
<path d="M762.8 115.2 L762.8 119.9 L764.9 121.7 L767.0 119.9 L767.0 115.2Z"/>
<path d="M236.9 979.8 L236.9 974.0 L234.8 972.1 L232.7 974.0 L232.7 979.8Z"/>
<path d="M332.7 979.8 L328.5 979.8 L330.6 976.1Z"/>
<path d="M428.5 979.8 L428.5 974.0 L426.4 972.1 L424.3 974.0 L424.3 979.8Z"/>
<path d="M524.2 979.8 L520.0 979.8 L522.1 976.1Z"/>
<path d="M620.0 979.8 L620.0 974.0 L617.9 972.1 L615.8 974.0 L615.8 979.8Z"/>
<path d="M715.8 979.8 L711.6 979.8 L713.7 976.1Z"/>
<path d="M140.4 520.3 L146.2 520.3 L148.0 518.2 L146.2 516.1 L140.4 516.1Z"/>
<path d="M808.5 516.1 L802.7 516.1 L800.9 518.2 L802.7 520.3 L808.5 520.3Z"/>
<path d="M140.4 465.9 L140.4 461.7 L144.9 463.8Z"/>
<path d="M808.5 461.7 L808.5 465.9 L804.0 463.8Z"/>
<path d="M140.4 411.6 L146.2 411.6 L148.0 409.5 L146.2 407.4 L140.4 407.4Z"/>
<path d="M808.5 407.4 L802.7 407.4 L800.9 409.5 L802.7 411.6 L808.5 411.6Z"/>
<path d="M140.4 357.3 L140.4 353.1 L144.9 355.2Z"/>
<path d="M808.5 353.1 L808.5 357.3 L804.0 355.2Z"/>
<path d="M140.4 302.9 L146.2 302.9 L148.0 300.8 L146.2 298.7 L140.4 298.7Z"/>
<path d="M808.5 298.7 L802.7 298.7 L800.9 300.8 L802.7 302.9 L808.5 302.9Z"/>
<path d="M140.4 248.6 L140.4 244.4 L144.9 246.5Z"/>
<path d="M808.5 244.4 L808.5 248.6 L804.0 246.5Z"/>
<path d="M140.4 194.3 L146.2 194.3 L148.0 192.2 L146.2 190.1 L140.4 190.1Z"/>
<path d="M808.5 190.1 L802.7 190.1 L800.9 192.2 L802.7 194.3 L808.5 194.3Z"/>
<path d="M140.4 140.0 L140.4 135.8 L144.9 137.9Z"/>
<path d="M808.5 135.8 L808.5 140.0 L804.0 137.9Z"/>
<path d="M140.4 948.1 L146.2 948.1 L148.0 946.0 L146.2 943.9 L140.4 943.9Z"/>
<path d="M808.5 943.9 L802.7 943.9 L800.9 946.0 L802.7 948.1 L808.5 948.1Z"/>
<path d="M140.4 875.3 L140.4 871.1 L144.9 873.2Z"/>
<path d="M808.5 871.1 L808.5 875.3 L804.0 873.2Z"/>
<path d="M140.4 802.5 L146.2 802.5 L148.0 800.4 L146.2 798.3 L140.4 798.3Z"/>
<path d="M808.5 798.3 L802.7 798.3 L800.9 800.4 L802.7 802.5 L808.5 802.5Z"/>
<path d="M140.4 729.7 L140.4 725.5 L144.9 727.6Z"/>
<path d="M808.5 725.5 L808.5 729.7 L804.0 727.6Z"/>
<path d="M140.4 656.9 L146.2 656.9 L148.0 654.8 L146.2 652.7 L140.4 652.7Z"/>
<path d="M808.5 652.7 L802.7 652.7 L800.9 654.8 L802.7 656.9 L808.5 656.9Z"/>
<path d="M140.4 584.1 L140.4 579.9 L144.9 582.0Z"/>
<path d="M808.5 579.9 L808.5 584.1 L804.0 582.0Z"/>
</g>
<rect x="138.7" y="113.4" width="671.5" height="868.1" fill="none" stroke="#000" stroke-width="4.5"/>
<line x1="138.7" y1="545.45" x2="810.2" y2="545.45" stroke="#000" stroke-width="4.5"/>
<path d="M136.5 111.5L136.5 110.2L138.8 107.9L141 110.2L141 111.5Z M808 111.5L808 110.2L810.2 107.9L812.4 110.2L812.4 111.5Z" fill="#000"/>
<path d="M6.3 388.7L30.2 379.6" stroke="#000" stroke-width="3" stroke-linecap="round"/>
<path d="M6.3 388.7L29.9 398.9" stroke="#000" stroke-width="1.5" stroke-linecap="round"/>
<path d="M30.2 379.6L29.9 398.9" stroke="#000" stroke-width="2.2" stroke-linecap="round"/>
<path d="M10.8 858.2L34.7 849.1" stroke="#000" stroke-width="3" stroke-linecap="round"/>
<path d="M10.8 858.2L34.4 868.4" stroke="#000" stroke-width="1.5" stroke-linecap="round"/>
<path d="M34.7 849.1L34.4 868.4" stroke="#000" stroke-width="2.2" stroke-linecap="round"/>
<line x1="557.8" y1="249.6" x2="624.1" y2="249.6" stroke="#ff0000" stroke-width="2.8"/>
<path d="M591.4 241.9L597.6 249.6L591.4 257.3L585.2 249.6Z" fill="#ff0000"/>
<line x1="557.8" y1="291.6" x2="624.1" y2="291.6" stroke="#ff7800" stroke-width="2.6"/>
<path d="M591.1 284.5L598.1 297.5L584.1 297.5Z" fill="#ff7800"/>
<line x1="557.8" y1="335.5" x2="624.1" y2="335.5" stroke="#00006e" stroke-width="2.8"/>
<circle cx="590.2" cy="336.0" r="5.5" fill="#000096"/>
<rect x="154.4" y="452.8" width="6.4" height="3.3" rx="1.2" fill="#000"/>
<rect x="154.4" y="496.3" width="6.4" height="3.3" rx="1.2" fill="#0808b0"/>
<rect x="169.5" y="452.8" width="7.5" height="3.3" rx="1.2" fill="#000"/>
<rect x="169.5" y="496.3" width="7.5" height="3.3" rx="1.2" fill="#0808b0"/>
<rect x="186" y="452.8" width="6.4" height="3.3" rx="1.2" fill="#000"/>
<rect x="186" y="496.3" width="6.4" height="3.3" rx="1.2" fill="#0808b0"/>
<rect x="202.5" y="452.8" width="6.4" height="3.3" rx="1.2" fill="#000"/>
<rect x="202.5" y="496.3" width="6.4" height="3.3" rx="1.2" fill="#0808b0"/>
<rect x="217.7" y="452.8" width="6.3" height="3.3" rx="1.2" fill="#000"/>
<rect x="217.7" y="496.3" width="6.3" height="3.3" rx="1.2" fill="#0808b0"/>
<text x="0" y="0" font-size="69" font-weight="bold" text-anchor="start" letter-spacing="0" transform="translate(5.6,44.5) scale(0.87,1)">a</text>
<text x="1.2" y="598.7" font-size="64" font-weight="bold" text-anchor="start" letter-spacing="0" >b</text>
<text class="thin" x="350.8" y="34.5" font-size="46" font-weight="normal" text-anchor="start" letter-spacing="0.6" >Energy (eV)</text>
<text class="thin" x="303.3" y="1103.8" font-size="46" font-weight="normal" text-anchor="start" letter-spacing="0.65" >Wavelength (nm)</text>
<text class="thin" x="0" y="0" font-size="46" text-anchor="middle" transform="translate(170.87,94.3) scale(0.97,1)">2</text>
<text class="thin" x="0" y="0" font-size="46" text-anchor="middle" transform="translate(190.50,94.3) scale(1.0,1)">.</text>
<text class="thin" x="0" y="0" font-size="46" text-anchor="middle" transform="translate(210.13,94.3) scale(0.92,1)">6</text>
<text class="thin" x="0" y="0" font-size="46" text-anchor="middle" transform="translate(247.97,94.3) scale(0.97,1)">2</text>
<text class="thin" x="0" y="0" font-size="46" text-anchor="middle" transform="translate(267.60,94.3) scale(1.0,1)">.</text>
<text class="thin" x="0" y="0" font-size="46" text-anchor="middle" transform="translate(287.23,94.3) scale(0.95,1)">4</text>
<text class="thin" x="0" y="0" font-size="46" text-anchor="middle" transform="translate(336.57,94.3) scale(0.97,1)">2</text>
<text class="thin" x="0" y="0" font-size="46" text-anchor="middle" transform="translate(356.20,94.3) scale(1.0,1)">.</text>
<text class="thin" x="0" y="0" font-size="46" text-anchor="middle" transform="translate(375.83,94.3) scale(0.97,1)">2</text>
<text class="thin" x="0" y="0" font-size="46" text-anchor="middle" transform="translate(465.00,94.3) scale(0.97,1)">2</text>
<text class="thin" x="0" y="0" font-size="46" text-anchor="middle" transform="translate(579.17,94.3) scale(1.0,1)">1</text>
<text class="thin" x="0" y="0" font-size="46" text-anchor="middle" transform="translate(598.80,94.3) scale(1.0,1)">.</text>
<text class="thin" x="0" y="0" font-size="46" text-anchor="middle" transform="translate(618.43,94.3) scale(0.98,1)">8</text>
<text class="thin" x="0" y="0" font-size="46" text-anchor="middle" transform="translate(744.87,94.3) scale(1.0,1)">1</text>
<text class="thin" x="0" y="0" font-size="46" text-anchor="middle" transform="translate(764.50,94.3) scale(1.0,1)">.</text>
<text class="thin" x="0" y="0" font-size="46" text-anchor="middle" transform="translate(784.13,94.3) scale(0.92,1)">6</text>
<text class="thin" x="0" y="0" font-size="46" text-anchor="middle" transform="translate(207.67,1034.5) scale(0.9,1)">5</text>
<text class="thin" x="0" y="0" font-size="46" text-anchor="middle" transform="translate(233.70,1034.5) scale(0.875,1)">0</text>
<text class="thin" x="0" y="0" font-size="46" text-anchor="middle" transform="translate(259.73,1034.5) scale(0.875,1)">0</text>
<text class="thin" x="0" y="0" font-size="46" text-anchor="middle" transform="translate(398.87,1034.5) scale(0.92,1)">6</text>
<text class="thin" x="0" y="0" font-size="46" text-anchor="middle" transform="translate(424.90,1034.5) scale(0.875,1)">0</text>
<text class="thin" x="0" y="0" font-size="46" text-anchor="middle" transform="translate(450.93,1034.5) scale(0.875,1)">0</text>
<text class="thin" x="0" y="0" font-size="46" text-anchor="middle" transform="translate(590.67,1034.5) scale(0.95,1)">7</text>
<text class="thin" x="0" y="0" font-size="46" text-anchor="middle" transform="translate(616.70,1034.5) scale(0.875,1)">0</text>
<text class="thin" x="0" y="0" font-size="46" text-anchor="middle" transform="translate(642.73,1034.5) scale(0.875,1)">0</text>
<text class="thin" x="0" y="0" font-size="46" text-anchor="middle" transform="translate(781.67,1034.5) scale(0.98,1)">8</text>
<text class="thin" x="0" y="0" font-size="46" text-anchor="middle" transform="translate(807.70,1034.5) scale(0.875,1)">0</text>
<text class="thin" x="0" y="0" font-size="46" text-anchor="middle" transform="translate(833.73,1034.5) scale(0.875,1)">0</text>
<text class="thin" x="0" y="0" font-size="46" text-anchor="middle" transform="translate(70.75,204) scale(0.875,1)">0</text>
<text class="thin" x="0" y="0" font-size="46" text-anchor="middle" transform="translate(90.38,204) scale(1.0,1)">.</text>
<text class="thin" x="0" y="0" font-size="46" text-anchor="middle" transform="translate(110.01,204) scale(0.95,1)">4</text>
<text class="thin" x="0" y="0" font-size="46" text-anchor="middle" transform="translate(70.75,313.5) scale(0.875,1)">0</text>
<text class="thin" x="0" y="0" font-size="46" text-anchor="middle" transform="translate(90.38,313.5) scale(1.0,1)">.</text>
<text class="thin" x="0" y="0" font-size="46" text-anchor="middle" transform="translate(110.01,313.5) scale(0.97,1)">2</text>
<text class="thin" x="0" y="0" font-size="46" text-anchor="middle" transform="translate(70.75,422.7) scale(0.875,1)">0</text>
<text class="thin" x="0" y="0" font-size="46" text-anchor="middle" transform="translate(90.38,422.7) scale(1.0,1)">.</text>
<text class="thin" x="0" y="0" font-size="46" text-anchor="middle" transform="translate(110.01,422.7) scale(0.875,1)">0</text>
<text class="thin" x="0" y="0" font-size="46" text-anchor="middle" transform="translate(49.84,530.7) scale(1.0,1)">-</text>
<text class="thin" x="0" y="0" font-size="46" text-anchor="middle" transform="translate(70.75,530.7) scale(0.875,1)">0</text>
<text class="thin" x="0" y="0" font-size="46" text-anchor="middle" transform="translate(90.38,530.7) scale(1.0,1)">.</text>
<text class="thin" x="0" y="0" font-size="46" text-anchor="middle" transform="translate(110.01,530.7) scale(0.97,1)">2</text>
<text class="thin" x="0" y="0" font-size="46" text-anchor="middle" transform="translate(70.75,664.6) scale(0.875,1)">0</text>
<text class="thin" x="0" y="0" font-size="46" text-anchor="middle" transform="translate(90.38,664.6) scale(1.0,1)">.</text>
<text class="thin" x="0" y="0" font-size="46" text-anchor="middle" transform="translate(110.01,664.6) scale(0.95,1)">4</text>
<text class="thin" x="0" y="0" font-size="46" text-anchor="middle" transform="translate(70.75,810.5) scale(0.875,1)">0</text>
<text class="thin" x="0" y="0" font-size="46" text-anchor="middle" transform="translate(90.38,810.5) scale(1.0,1)">.</text>
<text class="thin" x="0" y="0" font-size="46" text-anchor="middle" transform="translate(110.01,810.5) scale(0.97,1)">2</text>
<text class="thin" x="0" y="0" font-size="46" text-anchor="middle" transform="translate(70.75,955.2) scale(0.875,1)">0</text>
<text class="thin" x="0" y="0" font-size="46" text-anchor="middle" transform="translate(90.38,955.2) scale(1.0,1)">.</text>
<text class="thin" x="0" y="0" font-size="46" text-anchor="middle" transform="translate(110.01,955.2) scale(0.875,1)">0</text>
<text x="435" y="160.7" font-size="40" font-weight="bold" text-anchor="start" letter-spacing="0" >TF</text>
<text x="421.5" y="591.6" font-size="40" font-weight="bold" text-anchor="start" letter-spacing="0" >NW</text>
<text x="631.3" y="257.5" font-size="33" font-weight="bold" text-anchor="start" letter-spacing="0.3" >0 ps</text>
<text x="632.3" y="301" font-size="33" font-weight="bold" text-anchor="start" letter-spacing="0.3" >10 ps</text>
<text x="631.3" y="344.6" font-size="33" font-weight="bold" text-anchor="start" letter-spacing="0.3" >50 ps</text>
<text x="242" y="466.3" font-size="33" font-weight="bold" text-anchor="start" letter-spacing="1.1" >Abs</text>
<text x="244" y="509.8" font-size="33" font-weight="bold" text-anchor="start" letter-spacing="0" >PL</text>
<text class="thin" x="0" y="0" font-size="41.5" font-weight="normal" text-anchor="start" letter-spacing="0.66" transform="translate(31.8,377.0) rotate(-90)">T/T(%)</text>
<text class="thin" x="0" y="0" font-size="41.5" font-weight="normal" text-anchor="start" letter-spacing="1.2" transform="translate(37,847.0) rotate(-90)">T/T(%)</text>
</svg>
</body></html>
